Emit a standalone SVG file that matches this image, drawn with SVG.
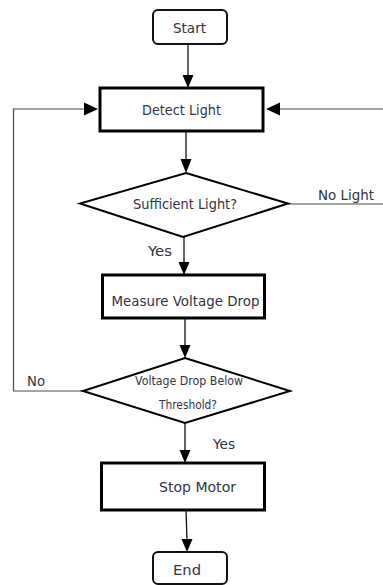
<svg xmlns="http://www.w3.org/2000/svg" width="383" height="585" viewBox="0 0 383 585">
  <style>
    .term { fill: #ffffff; stroke: #111111; stroke-width: 2; }
    .proc { fill: #ffffff; stroke: #000000; stroke-width: 3; }
    .dec { fill: #ffffff; stroke: #000000; stroke-width: 2; }
    .lbl { font-family: "DejaVu Sans", "Noto Sans", sans-serif; font-size: 14px; fill: #33333f; }
    .sm { font-size: 12px; }
    .edge { fill: none; stroke: #111111; stroke-width: 1.3; }
    .loop { fill: none; stroke: #4a4a4a; stroke-width: 1.2; }
    .arrow { fill: #000000; stroke: none; }
  </style>
  <rect width="383" height="585" fill="#ffffff"/>

  <g id="connectors">
    <line class="edge" x1="188" y1="44" x2="188" y2="76"/>
    <polygon class="arrow" points="182.5,75 193.5,75 188,88"/>

    <line class="edge" x1="186" y1="131" x2="186" y2="160"/>
    <polygon class="arrow" points="180.5,159 191.5,159 186,173"/>

    <line class="edge" x1="184" y1="237" x2="184" y2="263"/>
    <polygon class="arrow" points="178.5,262 189.5,262 184,275"/>

    <line class="edge" x1="185" y1="318" x2="185" y2="346"/>
    <polygon class="arrow" points="179.5,345 190.5,345 185,358"/>

    <line class="edge" x1="185" y1="423" x2="185" y2="451"/>
    <polygon class="arrow" points="179.5,450 190.5,450 185,463"/>

    <line class="edge" x1="186" y1="510" x2="187" y2="540"/>
    <polygon class="arrow" points="181.5,539 192.5,539 187,552"/>

    <polyline class="loop" points="83,391 13.5,391 13.5,109 85,109"/>
    <polygon class="arrow" points="84,102.5 84,115.5 98,109"/>

    <line class="loop" x1="288" y1="204" x2="383" y2="204"/>
    <line class="loop" x1="383" y1="109" x2="279" y2="109"/>
    <polygon class="arrow" points="280,102.5 280,115.5 266,109"/>

    <text class="lbl" x="318" y="200" textLength="56" lengthAdjust="spacingAndGlyphs">No Light</text>
    <text class="lbl" x="148" y="256" textLength="24" lengthAdjust="spacingAndGlyphs">Yes</text>
    <text class="lbl" x="27" y="386" textLength="18" lengthAdjust="spacingAndGlyphs">No</text>
    <text class="lbl" x="213" y="449" textLength="22" lengthAdjust="spacingAndGlyphs">Yes</text>
  </g>

  <g id="start">
    <rect class="term" x="153" y="10" width="74" height="34" rx="5"/>
    <text class="lbl" x="173" y="33" textLength="33" lengthAdjust="spacingAndGlyphs">Start</text>
  </g>

  <g id="detect-light">
    <rect class="proc" x="100" y="88" width="163" height="43"/>
    <text class="lbl" x="142" y="115" textLength="79" lengthAdjust="spacingAndGlyphs">Detect Light</text>
  </g>

  <g id="sufficient-light">
    <polygon class="dec" points="186,173 288,203.5 183,237 80,203.5"/>
    <text class="lbl" x="133" y="209" textLength="104" lengthAdjust="spacingAndGlyphs">Sufficient Light?</text>
  </g>

  <g id="measure-voltage-drop">
    <rect class="proc" x="102.5" y="275" width="162" height="43"/>
    <text class="lbl" x="111.5" y="306" textLength="148" lengthAdjust="spacingAndGlyphs">Measure Voltage Drop</text>
  </g>

  <g id="voltage-threshold">
    <polygon class="dec" points="185,358 290,391 185,423 83,391"/>
    <text class="lbl sm" x="135" y="385" textLength="108" lengthAdjust="spacingAndGlyphs">Voltage Drop Below</text>
    <text class="lbl sm" x="159" y="409" textLength="58" lengthAdjust="spacingAndGlyphs">Threshold?</text>
  </g>

  <g id="stop-motor">
    <rect class="proc" x="101.5" y="463" width="163" height="47"/>
    <text class="lbl" x="159" y="492" textLength="77" lengthAdjust="spacingAndGlyphs">Stop Motor</text>
  </g>

  <g id="end">
    <rect class="term" x="153" y="552" width="74" height="32" rx="5"/>
    <text class="lbl" x="173" y="575" textLength="28" lengthAdjust="spacingAndGlyphs">End</text>
  </g>
</svg>
